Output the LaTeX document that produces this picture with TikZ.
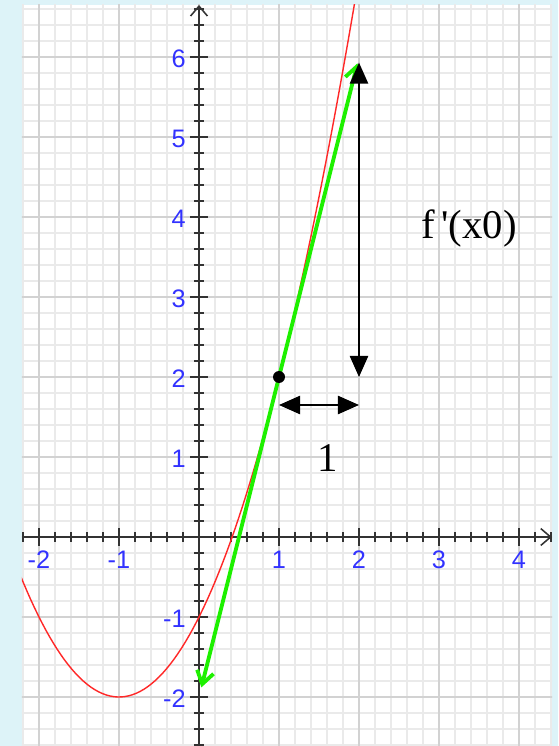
\documentclass[tikz,border=0pt]{standalone}
\usepackage{fontspec}
\setmainfont{Liberation Serif}
\setsansfont{Liberation Sans}
\newfontfamily\plainserif{Liberation Serif}
\usetikzlibrary{arrows.meta}
\definecolor{panelblue}{RGB}{221,243,248}
\definecolor{minorgrid}{RGB}{234,234,234}
\definecolor{majorgrid}{RGB}{210,210,210}
\definecolor{ticklabel}{RGB}{50,50,255}
\definecolor{curvered}{RGB}{255,40,40}
\definecolor{tangentgreen}{RGB}{30,240,0}
\tikzset{
  axisline/.style={draw=black!80,line width=0.55pt,-{Straight Barb[length=3.5pt,width=6pt]}},
  ticklab/.style={font=\sffamily\fontsize{9}{10}\selectfont,text=ticklabel,inner sep=0pt},
  measure/.style={line width=0.6pt,{Triangle[length=7.5pt,width=6.5pt]}-{Triangle[length=7.5pt,width=6.5pt]}},
}

\begin{document}
\begin{tikzpicture}[font=\plainserif\fontsize{14.5}{17}\selectfont]
\useasboundingbox[fill=panelblue] (-2.4875,-2.6125) rectangle (4.4875,6.7125);
\fill[white] (-2.2125,-2.6125) rectangle (4.4125,6.65);
\begin{scope}
\clip (-2.2125,-2.6125) rectangle (4.4125,6.65);
\draw[minorgrid,line width=0.6pt,step=0.2] (-2.4,-2.8) grid (4.6,6.8);
\draw[majorgrid,line width=0.7pt,step=1] (-3,-3) grid (5,7);
\end{scope}
% axes with ticks
\coordinate (xstart) at (-2.2125,0); \coordinate (xend) at (4.41,0);
\coordinate (ystart) at (0,-2.6125); \coordinate (yend) at (0,6.65);
\draw[axisline] (xstart) -- (xend);
\draw[axisline] (ystart) -- (yend);
\foreach \i in {-11,...,22} \draw[black!80,line width=0.6pt] ({\i/5},-0.06) -- ({\i/5},0.06);
\foreach \i in {-13,...,33} \draw[black!80,line width=0.6pt] (-0.06,{\i/5}) -- (0.06,{\i/5});
\foreach \i in {-2,...,4} \draw[black!80,line width=0.6pt] (\i,-0.11) -- (\i,0.11);
\foreach \i in {-2,...,6} \draw[black!80,line width=0.6pt] (-0.11,\i) -- (0.11,\i);
\foreach \i in {-2,-1,1,2,3,4} \node[ticklab] (xtick\i) at (\i,-0.28) {\i};
\foreach \i in {-2,-1,1,2,3,4,5,6} \node[ticklab,anchor=east] (ytick\i) at (-0.16,\i-0.02) {\i};
% parabola and tangent
\begin{scope}
\clip (-2.2125,-2.6125) rectangle (4.4125,6.65);
\draw[curvered,line width=0.5pt,domain=-2.25:1.96,samples=90] plot (\x,{(\x+1)^2-2});
\end{scope}
\coordinate (tanlow) at (0.03,-1.88);
\coordinate (tanhigh) at (1.98,5.92);
\draw[tangentgreen,line width=1.35pt,{Straight Barb[length=4.5pt,width=6pt]}-{Straight Barb[length=4.5pt,width=6pt]}] (tanlow) -- (tanhigh);
\node[circle,fill=black,inner sep=0pt,minimum size=0.15cm] (touch) at (1,2) {};
% slope triangle
\coordinate (risebot) at (2,2); \coordinate (risetop) at (2,5.93);
\draw[measure] (risebot) -- (risetop);
\coordinate (runleft) at (1,1.65); \coordinate (runright) at (2,1.65);
\draw[measure] (runleft) -- (runright);
\node (runlabel) at (1.61,0.99) {1};
\node (riselabel) at (3.375,3.86) {f\,'(x0)};
\end{tikzpicture}
\end{document}
